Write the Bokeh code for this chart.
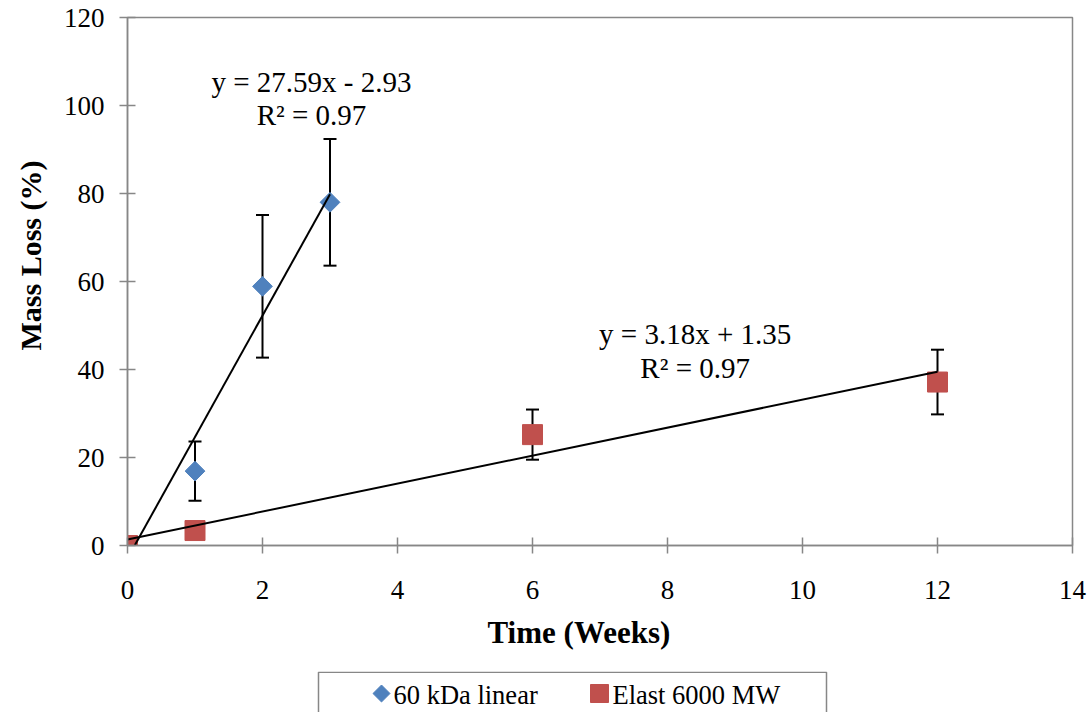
import numpy as np
from bokeh.plotting import figure
from bokeh.layouts import column
from bokeh.models import Range1d, Whisker, ColumnDataSource, Label, TeeHead, Title
from bokeh.core.properties import value
from bokeh.embed import file_html
from bokeh.resources import INLINE

# 60 kDa linear polymer
weeks_linear = [0, 1, 2, 3]
loss_linear = [0.0, 16.9, 58.9, 78.0]
err_linear = [0.0, 6.75, 16.2, 14.4]

# Elast 6000 MW
weeks_elast = [0, 1, 6, 12]
loss_elast = [0.0, 3.4, 25.2, 37.15]
err_elast = [0.0, 1.2, 5.7, 7.35]

# linear trendlines: slope, intercept, R²
fit_linear = [27.59, -2.93, 0.97]
fit_elast = [3.18, 1.35, 0.97]

x_ticks = [0, 2, 4, 6, 8, 10, 12, 14]
y_ticks = [0, 20, 40, 60, 80, 100, 120]

series_names = ["60 kDa linear", "Elast 6000 MW"]
x_title = "Time (Weeks)"
y_title = "Mass Loss (%)"

BLUE = "#4F81BD"
RED = "#C0504D"
AXIS_GRAY = "#878787"
FONT = "Liberation Serif"

p = figure(width=1091, height=671, x_range=Range1d(0, 14), y_range=Range1d(0, 120),
           output_backend="svg", toolbar_location=None,
           min_border_left=127, min_border_right=19, min_border_top=17, min_border_bottom=126)
p.background_fill_color = "white"
p.border_fill_color = "white"
p.outline_line_color = AXIS_GRAY
p.outline_line_width = 1.5
p.xgrid.visible = False
p.ygrid.visible = False

for ax, ticks in ((p.xaxis, x_ticks), (p.yaxis, y_ticks)):
    ax.ticker = ticks
    ax.axis_line_color = AXIS_GRAY
    ax.axis_line_width = 1.5
    ax.major_tick_line_color = AXIS_GRAY
    ax.major_tick_line_width = 1.5
    ax.major_tick_in = 8
    ax.major_tick_out = 8
    ax.minor_tick_line_color = None
    ax.major_label_text_font = FONT
    ax.major_label_text_font_size = "27px"
    ax.major_label_text_color = "black"

p.xaxis.major_label_standoff = 27
p.yaxis.major_label_standoff = 15

# axis titles as side-panel titles so they can sit off-centre
p.add_layout(Title(text=y_title, align="left", offset=195, vertical_align="top", standoff=24,
                   text_font=FONT, text_font_size="30px", text_font_style="bold",
                   text_color="black"), "left")
p.add_layout(Title(text=x_title, align="left", offset=360, vertical_align="top", standoff=26,
                   text_font=FONT, text_font_size="31px", text_font_style="bold",
                   text_color="black"), "below")

src_lin = ColumnDataSource(dict(
    x=weeks_linear, y=loss_linear,
    lo=[v - e for v, e in zip(loss_linear, err_linear)],
    hi=[v + e for v, e in zip(loss_linear, err_linear)]))
src_el = ColumnDataSource(dict(
    x=weeks_elast, y=loss_elast,
    lo=[v - e for v, e in zip(loss_elast, err_elast)],
    hi=[v + e for v, e in zip(loss_elast, err_elast)]))

# error bars (drawn underneath the markers)
for src in (src_lin, src_el):
    w = Whisker(source=src, base="x", upper="hi", lower="lo", line_color="black", line_width=2,
                upper_head=TeeHead(size=13, line_color="black", line_width=2),
                lower_head=TeeHead(size=13, line_color="black", line_width=2))
    p.add_layout(w)

p.scatter("x", "y", source=src_lin, marker="square", angle=np.pi / 4, size=14,
          fill_color=BLUE, line_color=BLUE)
p.scatter("x", "y", source=src_el, marker="square", size=20,
          fill_color=RED, line_color=RED)

# trendlines over each series' week range
for weeks, fit in ((weeks_linear, fit_linear), (weeks_elast, fit_elast)):
    xs = np.array([min(weeks), max(weeks)], dtype=float)
    p.line(xs, fit[0] * xs + fit[1], line_color="black", line_width=2)


def eq_text(fit):
    sign = "-" if fit[1] < 0 else "+"
    return f"y = {fit[0]:.2f}x {sign} {abs(fit[1]):.2f}", f"R² = {fit[2]:.2f}"


for fit, cx, y1, y2 in ((fit_linear, 2.726, 105.4, 97.9), (fit_elast, 8.41, 48.0, 40.4)):
    l1, l2 = eq_text(fit)
    for txt, yy in ((l1, y1), (l2, y2)):
        p.add_layout(Label(x=cx, y=yy, text=txt, text_align="center", text_baseline="alphabetic",
                           text_font=FONT, text_font_size="29px", text_color="black"))

# legend strip under the chart; its frame spans the same pixels as the chart frame,
# so its x range is expressed in page pixels and its y range in pixels from the strip top
leg = figure(width=1091, height=41, x_range=Range1d(127, 1072), y_range=Range1d(41, 0),
             output_backend="svg", toolbar_location=None,
             x_axis_location=None, y_axis_location=None,
             min_border_left=127, min_border_right=19, min_border_top=0, min_border_bottom=0)
leg.outline_line_color = None
leg.xgrid.visible = False
leg.ygrid.visible = False
leg.background_fill_color = "white"
leg.border_fill_color = "white"

leg.quad(left=[318], right=[826], top=[0.8], bottom=[60], fill_color="white",
         line_color=AXIS_GRAY, line_width=1.5)
swatch_x = [381, 599]
label_x = [393, 612]
leg.scatter([swatch_x[0]], [22], marker="square", angle=np.pi / 4, size=12,
            fill_color=BLUE, line_color=BLUE)
leg.scatter([swatch_x[1]], [22], marker="square", size=18,
            fill_color=RED, line_color=RED)
leg.text(x=label_x, y=[23, 23], text=series_names, text_baseline="alphabetic",
         text_align="left", text_font=value(FONT), text_font_size="26.5px", text_color="black")

open("out.html", "w").write(file_html(column(p, leg, spacing=0), INLINE))
